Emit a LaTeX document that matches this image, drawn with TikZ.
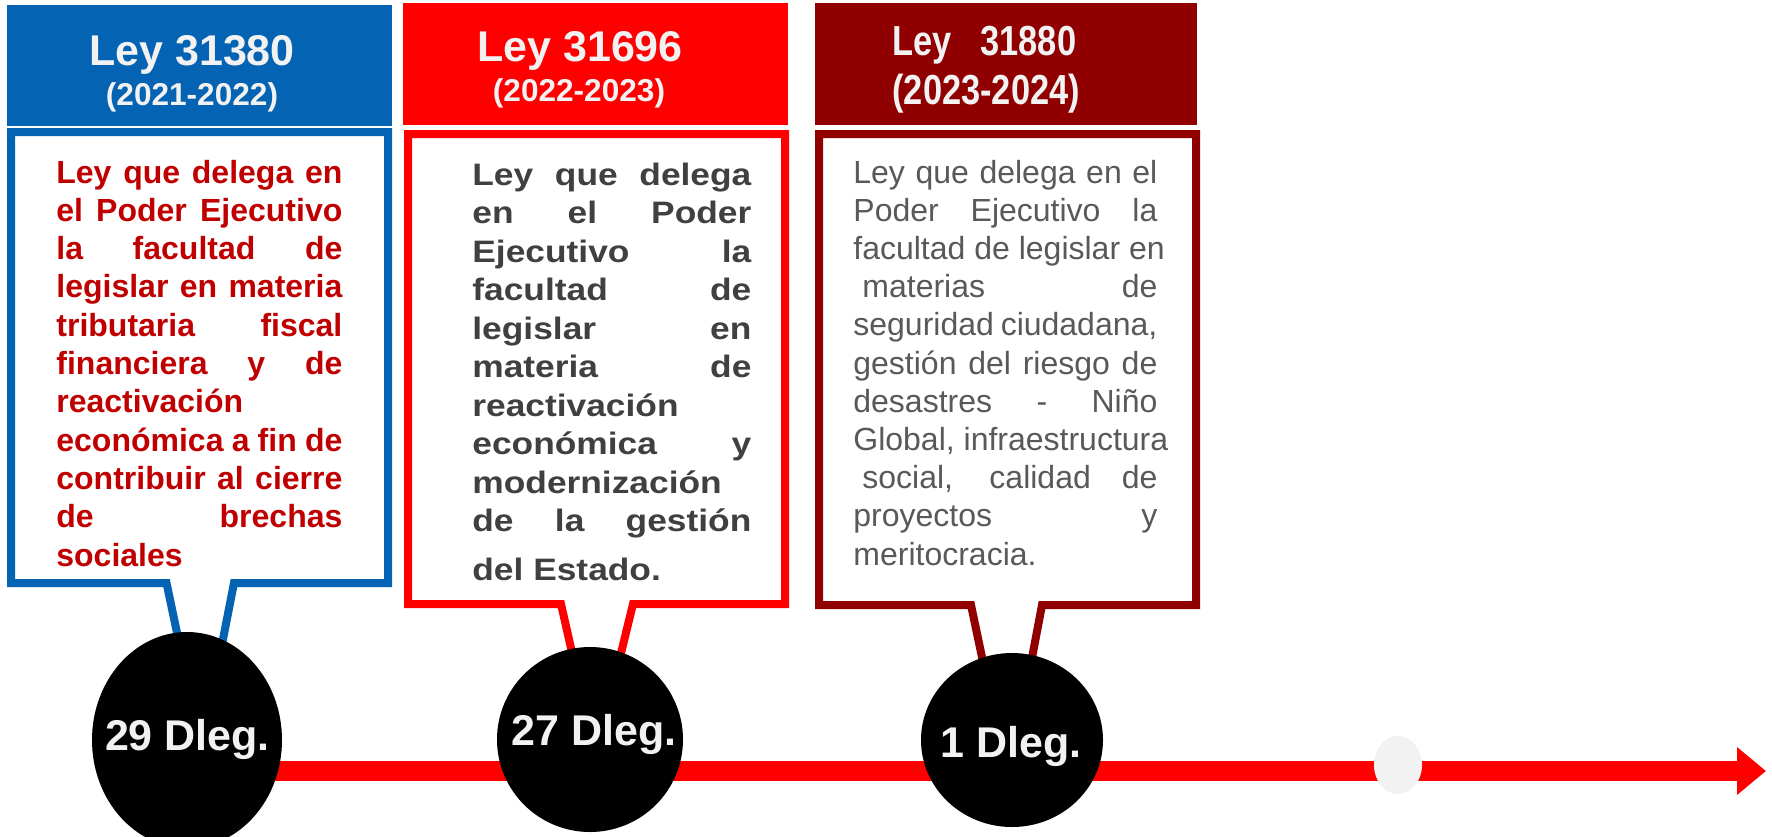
\documentclass[tikz,border=0pt]{standalone}
\usepackage{fontspec}
\setmainfont{Liberation Sans}
\newfontfamily\narrowfont[FakeStretch=0.82]{Liberation Sans}
\newfontfamily\widefont[FakeStretch=1.14]{Liberation Sans}
\usetikzlibrary{shapes.geometric,arrows.meta}
\definecolor{lblue}{HTML}{0563B3}
\definecolor{lred}{HTML}{FF0000}
\definecolor{ldark}{HTML}{900000}
\definecolor{txtred}{HTML}{C00000}
\definecolor{txtgray}{HTML}{404040}
\definecolor{txtgrayb}{HTML}{595959}
\definecolor{offwhite}{HTML}{F2F2F2}
\newcommand\jline[1]{\makebox[\linewidth][s]{#1}\par}
\newcommand\lline[1]{\makebox[\linewidth][l]{#1}\par}
\begin{document}
\begin{tikzpicture}[x=0.5pt,y=-0.5pt,
  hdr/.style={rectangle, inner sep=0pt, outer sep=0pt, draw=none},
  callout/.style={line width=4pt, fill=white, line join=miter},
  dot/.style={ellipse, fill=black, inner sep=0pt},
  dleg/.style={inner sep=0pt, text=offwhite, font=\bfseries\fontsize{21.5pt}{25pt}\selectfont},
  ttl/.style={inner sep=0pt, text=offwhite, font=\bfseries\fontsize{21.5pt}{25pt}\selectfont},
  yr/.style={inner sep=0pt, text=offwhite, font=\bfseries\fontsize{15.8pt}{19pt}\selectfont},
  body/.style={inner sep=0pt, anchor=base west}]
\useasboundingbox (0,0) rectangle (1772,836);

% headers
\node[hdr, fill=lblue, minimum width=192.5pt, minimum height=60.7pt] (h1) at (199.5,65.3) {};
\node[hdr, fill=lred, minimum width=192.5pt, minimum height=60.75pt] (h2) at (595.5,63.75) {};
\node[hdr, fill=ldark, minimum width=191pt, minimum height=60.75pt] (h3) at (1006,63.75) {};

\node[ttl, anchor=base] (t1a) at (192,65) {Ley 31380};
\node[yr, anchor=base] (t1b) at (192,105) {(2021-2022)};
\node[ttl, anchor=base] (t2a) at (580,61) {Ley 31696};
\node[yr, anchor=base] (t2b) at (579,101) {(2022-2023)};
\node[ttl, anchor=base west, font=\narrowfont\bfseries\fontsize{21pt}{25pt}\selectfont] (t3a) at (892,55) {Ley\ \ \ 31880};
\node[ttl, anchor=base west, font=\narrowfont\bfseries\fontsize{21pt}{25pt}\selectfont] (t3b) at (892,104) {(2023-2024)};

% arrow
\coordinate (astart) at (187,771);
\coordinate (aend) at (1766,771);
\draw[lred, line width=10pt, -{Triangle[length=14.5pt,width=23pt]}] (astart) -- (aend);
\node[ellipse, fill=offwhite, inner sep=0pt, minimum width=24pt, minimum height=29pt] (g) at (1398,765) {};

% callouts
\draw[callout, draw=lblue] (11,132) -- (388,132) -- (388,583) -- (234,583) -- (215,680) -- (187,680) -- (166.5,583) -- (11,583) -- cycle;
\draw[callout, draw=lred] (408,134) -- (785,134) -- (785,604) -- (633,604) -- (612,690) -- (580.5,690) -- (561,604) -- (408,604) -- cycle;
\draw[callout, draw=ldark] (819,134) -- (1196,134) -- (1196,605) -- (1042,605) -- (1024,700) -- (991,700) -- (971,605) -- (819,605) -- cycle;

% circles
\node[dot, minimum width=95pt, minimum height=108pt] (c1) at (187,740) {};
\node[dot, minimum width=93pt, minimum height=92.5pt] (c2) at (590,739.5) {};
\node[dot, minimum width=91pt, minimum height=87pt] (c3) at (1012,740) {};
\node[dleg, anchor=base] (d1) at (187.5,750) {29 Dleg.};
\node[dleg, anchor=base] (d2) at (594,745) {27 Dleg.};
\node[dleg, anchor=base] (d3) at (1011,757) {1 Dleg.};

% body texts
\node[body, text=txtred] (b1) at (56,183) {\parbox[t]{143pt}{\bfseries\fontsize{16pt}{19.15pt}\selectfont
\jline{Ley que delega en}
\jline{el Poder Ejecutivo}
\jline{la facultad de}
\jline{legislar en materia}
\jline{tributaria fiscal}
\jline{financiera y de}
\lline{reactivación}
\jline{económica a fin de}
\jline{contribuir al cierre}
\jline{de brechas}
\lline{sociales}}};

\node[body, text=txtgray] (b2) at (472,185) {\parbox[t]{139.5pt}{\widefont\bfseries\fontsize{15.5pt}{19.25pt}\selectfont
\jline{Ley que delega}
\jline{en el Poder}
\jline{Ejecutivo la}
\jline{facultad de}
\jline{legislar en}
\jline{materia de}
\lline{reactivación}
\jline{económica y}
\lline{modernización}
\jline{de la gestión}
\vspace{5pt}
\lline{del Estado.}}};

\node[body, text=txtgrayb] (b3) at (853,183) {\parbox[t]{152pt}{\fontsize{16pt}{19.1pt}\selectfont
\jline{Ley que delega en el}
\jline{Poder Ejecutivo la}
\lline{facultad de legislar en}
\jline{\hspace{4.5pt}materias de}
\jline{seguridad ciudadana,}
\jline{gestión del riesgo de}
\jline{desastres - Niño}
\lline{Global, infraestructura}
\jline{\hspace{4.5pt}social, calidad de}
\jline{proyectos y}
\lline{meritocracia.}}};
\end{tikzpicture}
\end{document}
